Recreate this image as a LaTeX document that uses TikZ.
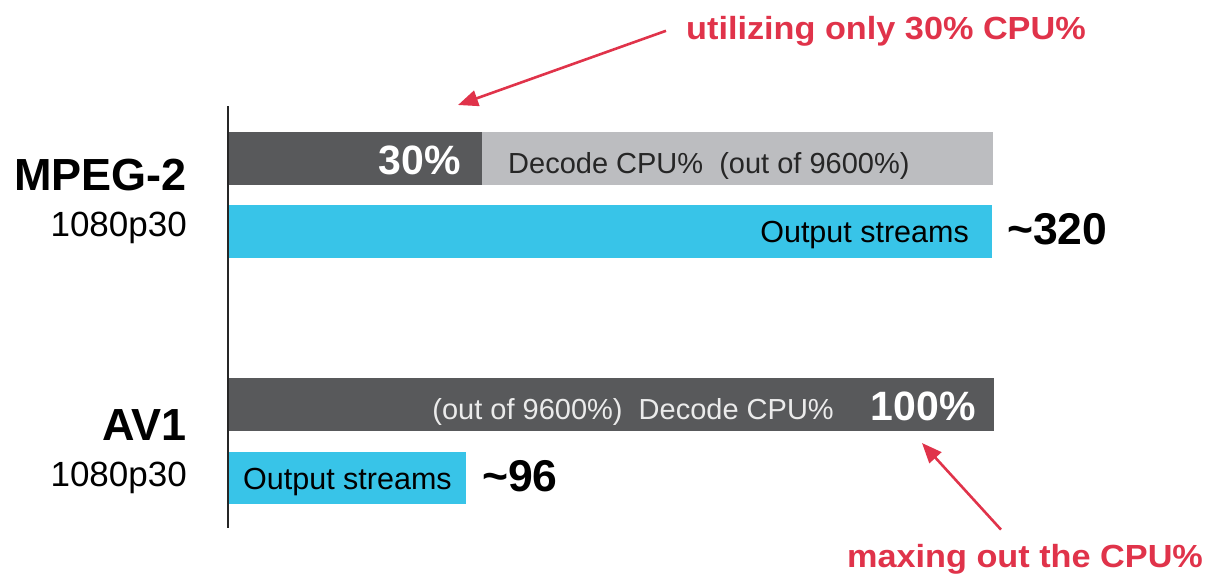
\documentclass[tikz,border=0pt]{standalone}
\usepackage{fontspec}
\setmainfont{Liberation Sans}
\newfontfamily\calloutfont[FakeStretch=1.07]{Liberation Sans}
\usetikzlibrary{arrows.meta}
\definecolor{bardark}{HTML}{58595B}
\definecolor{barlight}{HTML}{BCBDC0}
\definecolor{barblue}{HTML}{38C4E8}
\definecolor{callred}{HTML}{E0334A}
\tikzset{
  bar/.style={inner sep=0pt, outer sep=0pt, anchor=north west},
  lbl/.style={inner sep=0pt, font=\fontsize{29}{34}\selectfont},
  streams/.style={inner sep=0pt, font=\fontsize{30.5}{36}\selectfont},
  big/.style={inner sep=0pt, font=\fontsize{41}{48}\selectfont\bfseries},
  count/.style={inner sep=0pt, font=\fontsize{44.5}{52}\selectfont\bfseries},
  codec/.style={inner sep=0pt, anchor=base east, font=\fontsize{45}{52}\selectfont\bfseries},
  fmt/.style={inner sep=0pt, anchor=base east, font=\fontsize{35}{42}\selectfont},
  callout/.style={inner sep=0pt, text=callred, font=\fontsize{32}{38}\calloutfont\bfseries},
  pointer/.style={draw=callred, line width=2.6pt, -{Triangle[length=20pt,width=16pt]}}
}
\begin{document}
\begin{tikzpicture}[x=1pt,y=-1pt]
  \useasboundingbox (0,0) rectangle (1210,574);

  % axis
  \coordinate (axtop) at (228,106);
  \coordinate (axbot) at (228,528);
  \draw[line width=2pt, black!85] (axtop) -- (axbot);

  % MPEG-2 bars
  \node[bar, fill=bardark, minimum width=253pt, minimum height=53pt] (mcpu) at (229,132) {};
  \node[bar, fill=barlight, minimum width=511pt, minimum height=53pt] (mrest) at (482,132) {};
  \node[bar, fill=barblue, minimum width=763pt, minimum height=53pt] (mout) at (229,205) {};

  % AV1 bars
  \node[bar, fill=bardark, minimum width=765pt, minimum height=53pt] (acpu) at (229,378) {};
  \node[bar, fill=barblue, minimum width=237pt, minimum height=52pt] (aout) at (229,452) {};

  % codec labels
  \node[codec] (mname) at (187,190) {MPEG-2};
  \node[fmt] (mres) at (187,236) {1080p30};
  \node[codec] (aname) at (187,440) {AV1};
  \node[fmt] (ares) at (187,486) {1080p30};

  % labels inside bars
  \node[big, text=white, anchor=base east] (mpct) at (461,174) {30\%};
  \node[lbl, text=black!85, anchor=base west] (mdec) at (508,173) {Decode CPU\%\ \ (out of 9600\%)};
  \node[streams, anchor=base east] (mstr) at (969,242) {Output streams};
  \node[count, anchor=base west] (mnum) at (1007,244) {\char`~320};

  \node[lbl, text=white!92!black, anchor=base east] (adec) at (834,419) {(out of 9600\%)\ \ Decode CPU\%};
  \node[big, text=white, anchor=base east] (apct) at (976,420) {100\%};
  \node[streams, anchor=base west] (astr) at (243,489) {Output streams};
  \node[count, anchor=base west] (anum) at (482,491) {\char`~96};

  % callouts
  \node[callout, anchor=base west] (note1) at (686,39) {utilizing only 30\% CPU\%};
  \node[callout, anchor=base west] (note2) at (847,567) {maxing out the CPU\%};
  \coordinate (tip1) at (458,105);
  \coordinate (tip2) at (922,443);
  \draw[pointer] ([xshift=-20pt]note1.west) -- (tip1);
  \draw[pointer] (note2.north -| 1001,0) ++(0,-14) -- (tip2);
\end{tikzpicture}
\end{document}
